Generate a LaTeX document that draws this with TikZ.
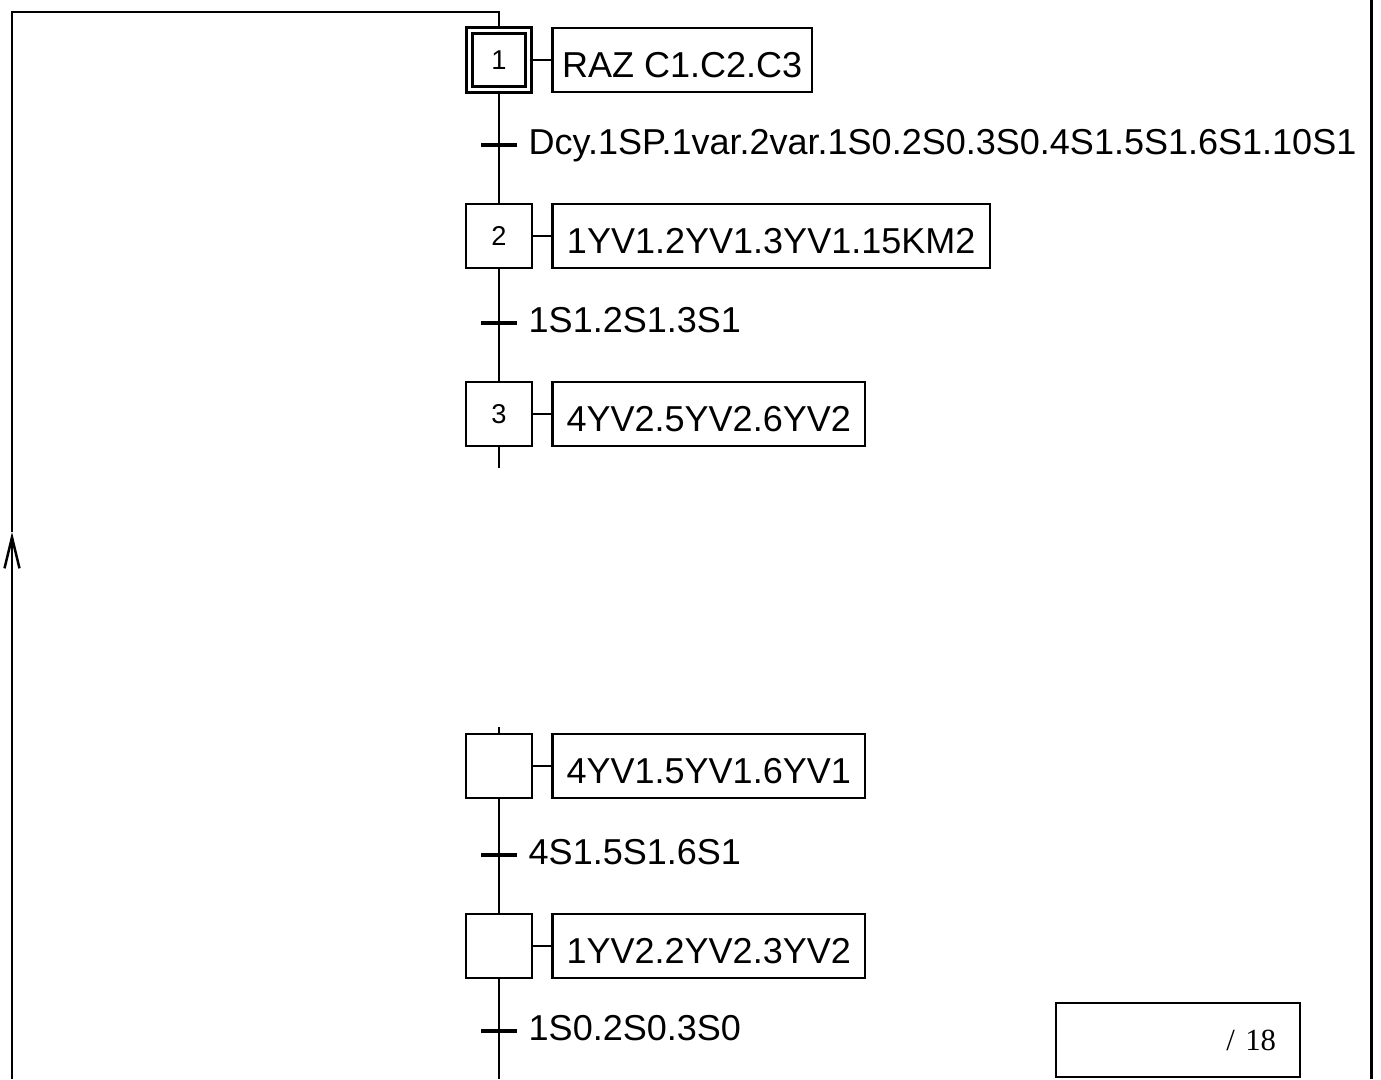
\documentclass[tikz,border=0pt]{standalone}
\usepackage{fontspec}
\setmainfont{Liberation Sans}
\newfontfamily\notefont{Liberation Serif}
\usepackage{tikz}
\usetikzlibrary{positioning, arrows.meta}

\tikzset{
    liaison/.style={line width=0.05cm},
    etape/.style={draw, line width=0.05cm, minimum width=1.32cm, minimum height=1.28cm,
        inner sep=0pt, fill=white, font=\fontsize{15.5}{16}\selectfont},
    etapeinit/.style={draw, line width=0.045cm, double, double distance=0.075cm,
        minimum size=1.18cm, inner sep=0pt, font=\fontsize{15.5}{16}\selectfont},
    action/.style={draw, line width=0.05cm, minimum height=1.28cm, inner sep=0pt,
        anchor=west, text height=0.74cm, text depth=0.06cm, font=\fontsize{20.5}{24}\selectfont},
    transition/.style={fill=black, minimum width=0.72cm, minimum height=0.09cm, inner sep=0pt},
    receptivite/.style={inner sep=0pt, text height=0.52cm, text depth=0.14cm,
        font=\fontsize{20.5}{24}\selectfont}
}

\begin{document}
\begin{tikzpicture}[x=0.02cm, y=-0.02cm]

    \useasboundingbox (0,0) rectangle (1381,1079);

    % =================================================================
    % 1. ETAPES ET ACTIONS
    % =================================================================
    \node[etapeinit] (E1) at (499,60) {1};
    \node[etape] (E2) at (499,236) {2};
    \node[etape] (E3) at (499,414) {3};
    \node[etape] (E4) at (499,766) {};
    \node[etape] (E5) at (499,946) {};

    \node[action, minimum width=5.2cm] (A1) at (551,60) {RAZ C1.C2.C3};
    \node[action, minimum width=8.76cm] (A2) at (551,236) {1YV1.2YV1.3YV1.15KM2};
    \node[action, minimum width=6.26cm] (A3) at (551,414) {4YV2.5YV2.6YV2};
    \node[action, minimum width=6.26cm] (A4) at (551,766) {4YV1.5YV1.6YV1};
    \node[action, minimum width=6.26cm] (A5) at (551,946) {1YV2.2YV2.3YV2};

    % Liaisons etape -- action
    \foreach \i in {1,...,5} {
        \draw[liaison] (E\i) -- (A\i);
    }

    % =================================================================
    % 2. TRANSITIONS ET RECEPTIVITES
    % =================================================================
    \coordinate (S3bas) at (499,468);
    \coordinate (E4haut) at (499,727);
    \coordinate (Fin) at (499,1079);

    \draw[liaison] (E1) -- (E2);
    \draw[liaison] (E2) -- (E3);
    \draw[liaison] (E3) -- (S3bas);
    \draw[liaison] (E4haut) -- (E4);
    \draw[liaison] (E4) -- (E5);
    \draw[liaison] (E5) -- (Fin);

    \node[transition] (T1) at (499,145) {};
    \node[transition] (T2) at (499,323) {};
    \node[transition] (T4) at (499,855) {};
    \node[transition] (T5) at (499,1031) {};

    \node[receptivite, right=0.22cm of T1] (R1) {Dcy.1SP.1var.2var.1S0.2S0.3S0.4S1.5S1.6S1.10S1};
    \node[receptivite, right=0.22cm of T2] (R2) {1S1.2S1.3S1};
    \node[receptivite, right=0.22cm of T4] (R4) {4S1.5S1.6S1};
    \node[receptivite, right=0.22cm of T5] (R5) {1S0.2S0.3S0};

    % =================================================================
    % 3. RETOUR VERS L'ETAPE INITIALE
    % =================================================================
    \coordinate (Bas) at (12,1079);
    \coordinate (Fleche) at (12,532);
    \coordinate (CoinHG) at (12,12);
    \coordinate (Retour) at (499,12);

    \draw[liaison, -{Straight Barb[length=0.62cm, width=0.3cm]}] (Bas) -- (Fleche);
    \draw[liaison] (Fleche) -- (CoinHG) -- (Retour) -- (E1);

    % =================================================================
    % 4. CADRE DE PAGE ET NOTE
    % =================================================================
    \coordinate (CadreHaut) at (1371,0);
    \coordinate (CadreBas) at (1371,1079);
    \draw[line width=0.06cm] (CadreHaut) -- (CadreBas);

    \node[draw, line width=0.05cm, minimum width=4.88cm, minimum height=1.48cm,
        text width=3.92cm, align=right, inner xsep=0.48cm,
        font=\notefont\fontsize{17.5}{20}\selectfont] (Note) at (1178,1040) {/ 18};

\end{tikzpicture}
\end{document}
